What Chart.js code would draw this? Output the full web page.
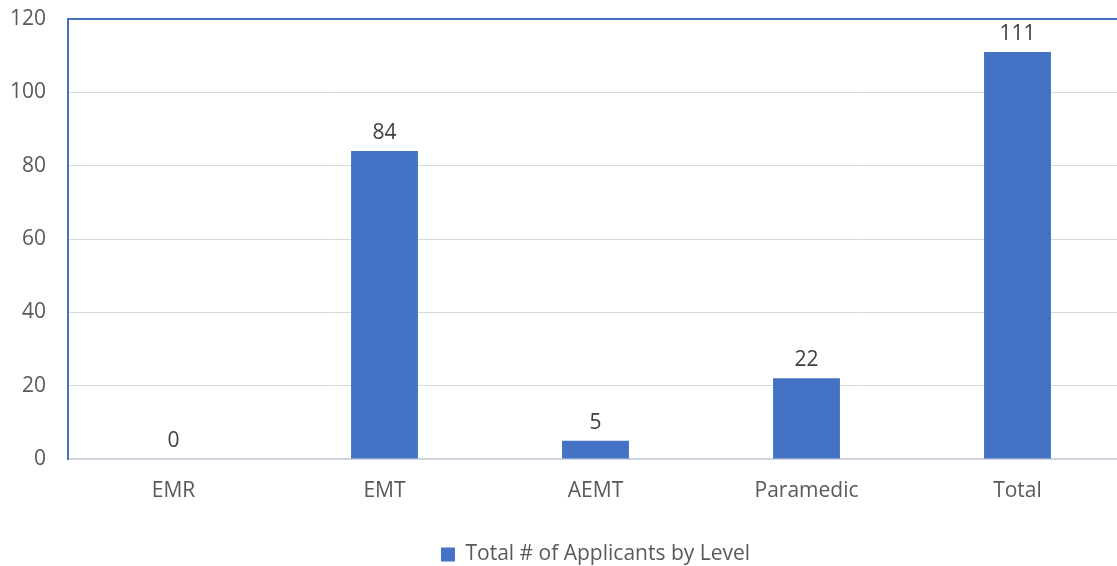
<!DOCTYPE html>
<html>
<head>
<meta charset="utf-8">
<script src="https://cdn.jsdelivr.net/npm/chart.js@4/dist/chart.umd.min.js"></script>
<style>
html,body{margin:0;padding:0;overflow:hidden;background:#fff;width:1117px;height:566px;}
canvas{display:block;}
</style>
</head>
<body>
<canvas id="c" width="1123" height="566"></canvas>
<script>
const categories = ["EMR", "EMT", "AEMT", "Paramedic", "Total"];
const applicants = [0, 84, 5, 22, 111];
const seriesName = "Total # of Applicants by Level";
const yTicks = [0, 20, 40, 60, 80, 100, 120];

const FONT = "'Open Sans', 'Noto Sans', sans-serif";
const BLUE = "#4472C4";

const valueLabels = {
  id: "valueLabels",
  afterDatasetsDraw(chart) {
    const ctx = chart.ctx;
    ctx.save();
    ctx.font = "21px " + FONT;
    ctx.fillStyle = "#404040";
    ctx.textAlign = "center";
    ctx.textBaseline = "alphabetic";
    chart.getDatasetMeta(0).data.forEach((bar, i) => {
      ctx.fillText(String(applicants[i]), bar.x, bar.y - 12);
    });
    ctx.restore();
  }
};

new Chart(document.getElementById("c"), {
  type: "bar",
  data: {
    labels: categories,
    datasets: [{
      label: seriesName,
      data: applicants,
      backgroundColor: BLUE,
      borderWidth: 0,
      barPercentage: 1,
      categoryPercentage: 0.317
    }]
  },
  options: {
    responsive: false,
    animation: false,
    layout: { padding: { top: 19, left: 0, right: 0, bottom: -9 } },
    plugins: {
      tooltip: { enabled: false },
      legend: {
        position: "bottom",
        fullSize: false,
        labels: {
          boxWidth: 14,
          boxHeight: 14,
          color: "#595959",
          font: { family: FONT, size: 21 },
          padding: 4
        }
      }
    },
    scales: {
      x: {
        grid: { display: false, drawTicks: false },
        border: { color: "#cdd3df", width: 2 },
        ticks: { color: "#595959", font: { family: FONT, size: 21 }, padding: 19 },
        afterFit(scale) { scale.height = 81; }
      },
      y: {
        min: 0,
        max: 120,
        afterBuildTicks(scale) { scale.ticks = yTicks.map(v => ({ value: v })); },
        grid: {
          drawTicks: false,
          color: (c) => c.tick && c.tick.value === 120 ? BLUE : (c.tick && c.tick.value === 0 ? "rgba(0,0,0,0)" : "#d9d9d9"),
          lineWidth: (c) => c.tick && c.tick.value === 120 ? 2 : 1
        },
        border: { color: BLUE, width: 2 },
        ticks: { color: "#595959", font: { family: FONT, size: 21 }, padding: 22 },
        afterFit(scale) { scale.width = 68; scale.paddingTop = 0; scale.paddingBottom = 0; }
      }
    }
  },
  plugins: [valueLabels]
});
</script>
</body>
</html>
